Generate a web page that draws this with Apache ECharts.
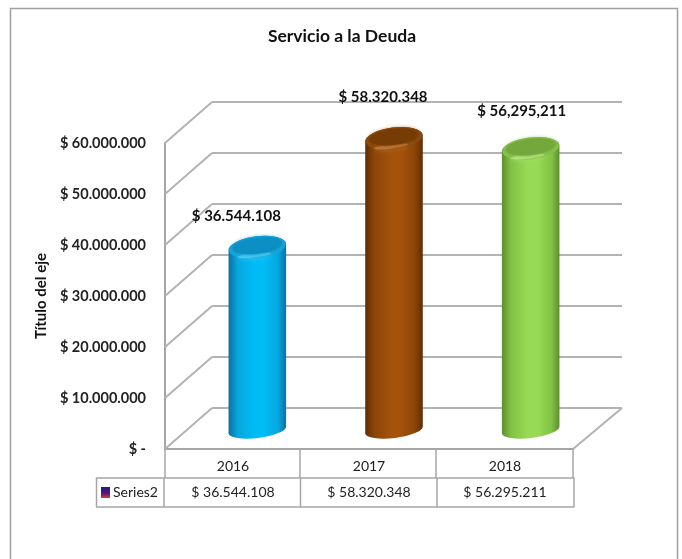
<!DOCTYPE html>
<html><head><meta charset="utf-8">
<style>html,body{margin:0;padding:0;background:#fff}#c{width:682px;height:559px}</style>
<script src="https://cdn.jsdelivr.net/npm/echarts@6/dist/echarts.min.js"></script>
</head><body><div id="c"></div>
<script>
const categories = ['2016', '2017', '2018'];
const values = [36544108, 58320348, 56295211];
const dataLabels = ['$ 36.544.108', '$ 58.320.348', '$ 56,295,211'];
const tableLabels = ['$ 36.544.108', '$ 58.320.348', '$ 56.295.211'];
const tickValues = [0, 10000000, 20000000, 30000000, 40000000, 50000000, 60000000];
const tickLabels = ['$ -', '$ 10.000.000', '$ 20.000.000', '$ 30.000.000', '$ 40.000.000', '$ 50.000.000', '$ 60.000.000'];
const seriesName = 'Series2';

const FONT = 'Lato, "Open Sans", sans-serif';
const GRID = '#b3b3b3', LINE = '#a6a6a6', TEXT = '#111';
const depth = [47, -41];
const palette = [
  {edge:'#0b6f9e', mid:'#07a6de', hi:'#00bcf5', top:'#0c8fc4', topHi:'#4fd2f7', lip:'#14a6dc'},
  {edge:'#5e2c05', mid:'#8a4507', hi:'#a5520b', top:'#773b06', topHi:'#c9823f', lip:'#8f4a0c'},
  {edge:'#5d8c2e', mid:'#82c244', hi:'#97da55', top:'#74a83c', topHi:'#bdea85', lip:'#86c348'}
];
const labelShift = [[-21, -31], [-11, -41], [-9, -37]];
const R = 29, TILT = 7, RY_TOP = 11, RY_BASE = 8;

function cylinder(api) {
  const i = api.value(0);
  const top = api.coord([i, api.value(1)]);
  const base = api.coord([i, 0]);
  const c = palette[i];
  const cx = top[0], yt = top[1], yb = base[1];
  const dy = R * Math.sin(TILT * Math.PI / 180), dx = R * Math.cos(TILT * Math.PI / 180);
  const body = `M${cx-dx} ${yt+dy} A${R} ${RY_TOP} ${-TILT} 0 1 ${cx+dx} ${yt-dy} L${cx+dx} ${yb-dy} A${R} ${RY_BASE} ${-TILT} 0 1 ${cx-dx} ${yb+dy} Z`;
  const grad = {type:'linear', x:0, y:0, x2:1, y2:0, colorStops:[
    {offset:0, color:c.edge},{offset:0.16, color:c.mid},{offset:0.45, color:c.hi},
    {offset:0.62, color:c.hi},{offset:0.86, color:c.mid},{offset:1, color:c.edge}]};
  const rot = TILT * Math.PI / 180;
  return {type:'group', children:[
    {type:'path', shape:{pathData:body}, style:{fill:grad}},
    {type:'ellipse', shape:{cx:0, cy:0, rx:R-0.5, ry:RY_TOP}, x:cx, y:yt, rotation:rot, style:{fill:c.lip}},
    {type:'ellipse', shape:{cx:0, cy:0, rx:R-12, ry:2}, x:cx-3, y:yt+8, rotation:rot, style:{fill:c.topHi, opacity:0.8, shadowBlur:5, shadowColor:c.topHi}},
    {type:'ellipse', shape:{cx:0, cy:0, rx:R-4, ry:RY_TOP-3}, x:cx, y:yt-1.5, rotation:rot, style:{fill:c.top, shadowBlur:4, shadowColor:c.top}},
    {type:'text', style:{text:dataLabels[i], x:cx+labelShift[i][0], y:yt+labelShift[i][1], align:'center', verticalAlign:'middle',
      font:`bold 15px ${FONT}`, fill:TEXT}}
  ]};
}

function diagonal(api) {
  const y = api.coord([0, api.value(0)])[1];
  const x0 = 165;
  return {type:'line', shape:{x1:x0, y1:y, x2:x0+depth[0], y2:y+depth[1]}, style:{stroke:GRID, lineWidth:2}};
}

function tableCell(api) {
  const i = api.value(0);
  const p = api.coord([i, 0]);
  return {type:'text', style:{text:tableLabels[i], x:p[0], y:p[1]+43, align:'center', verticalAlign:'middle',
    font:`14px ${FONT}`, fill:'#222'}};
}

const chart = echarts.init(document.getElementById('c'), null, {renderer:'canvas'});
chart.setOption({
  animation:false,
  backgroundColor:'#fff',
  title:{text:'Servicio a la Deuda', left:337, top:22, textAlign:'center',
    textStyle:{fontFamily:FONT, fontWeight:'bold', fontSize:17.5, color:TEXT}},
  grid:[
    {left:212, width:410, top:102, height:306},
    {left:165, width:408, top:143, height:306},
    {left:189, width:410, top:130, height:300}
  ],
  xAxis:[
    {gridIndex:0, type:'category', data:categories, show:false},
    {gridIndex:1, type:'category', data:categories, axisTick:{show:false},
      axisLine:{show:true, lineStyle:{color:LINE, width:2}},
      axisLabel:{margin:10, fontFamily:FONT, fontSize:14, color:'#222'}},
    {gridIndex:2, type:'category', data:categories, show:false}
  ],
  yAxis:[
    {gridIndex:0, type:'value', min:0, max:60000000, interval:10000000,
      axisLine:{show:false}, axisTick:{show:false}, axisLabel:{show:false},
      splitLine:{show:true, lineStyle:{color:GRID, width:2}}},
    {gridIndex:1, type:'value', min:0, max:60000000, interval:10000000,
      name:'Título del eje', nameLocation:'middle', nameGap:113, nameRotate:90,
      nameTextStyle:{fontFamily:FONT, fontWeight:'bold', fontSize:15, color:TEXT},
      axisLine:{show:true, lineStyle:{color:LINE, width:2}}, axisTick:{show:false},
      splitLine:{show:false},
      axisLabel:{margin:19, fontFamily:FONT, fontWeight:'bold', fontSize:14.5, color:'#222',
        formatter:v=>tickLabels[tickValues.indexOf(v)]}},
    {gridIndex:2, type:'value', min:0, max:60000000, interval:10000000, show:false}
  ],
  series:[
    {type:'custom', xAxisIndex:1, yAxisIndex:1, data:tickValues.map(v=>[v]), encode:{y:0}, renderItem:(p,api)=>diagonal(api), silent:true, z:1, clip:false},
    {type:'custom', xAxisIndex:2, yAxisIndex:2, data:values.map((v,i)=>[i,v]), encode:{x:0,y:1}, renderItem:(p,api)=>cylinder(api), silent:true, z:3, clip:false},
    {type:'custom', xAxisIndex:1, yAxisIndex:1, data:values.map((v,i)=>[i]), encode:{x:0}, renderItem:(p,api)=>tableCell(api), silent:true, z:3, clip:false}
  ],
  graphic:[
    {type:'rect', shape:{x:10.5, y:8.5, width:667, height:600}, style:{fill:'none', stroke:'#a0a0a0', lineWidth:1.5}, silent:true, z:-1},
    {type:'line', shape:{x1:573, y1:449, x2:622, y2:408}, style:{stroke:GRID, lineWidth:2}, silent:true},
    ...[165, 300, 436, 573].map(x=>({type:'line', shape:{x1:x, y1:449, x2:x, y2:478}, style:{stroke:LINE, lineWidth:1.5}, silent:true})),
    ...[96.5, 164, 300.5, 437, 574].map(x=>({type:'line', shape:{x1:x, y1:478, x2:x, y2:507}, style:{stroke:LINE, lineWidth:1.5}, silent:true})),
    ...[478, 507].map(y=>({type:'line', shape:{x1:96, y1:y, x2:574.5, y2:y}, style:{stroke:LINE, lineWidth:1.5}, silent:true})),
    {type:'rect', shape:{x:101, y:487, width:9, height:11},
      style:{fill:{type:'linear',x:0,y:0,x2:0,y2:1,colorStops:[{offset:0,color:'#1a1a8c'},{offset:0.6,color:'#5a1a70'},{offset:1,color:'#e0402a'}]}}, silent:true},
    {type:'text', x:113, y:492, style:{text:seriesName, font:`14px ${FONT}`, fill:'#222', verticalAlign:'middle'}, silent:true}
  ]
});
</script></body></html>
